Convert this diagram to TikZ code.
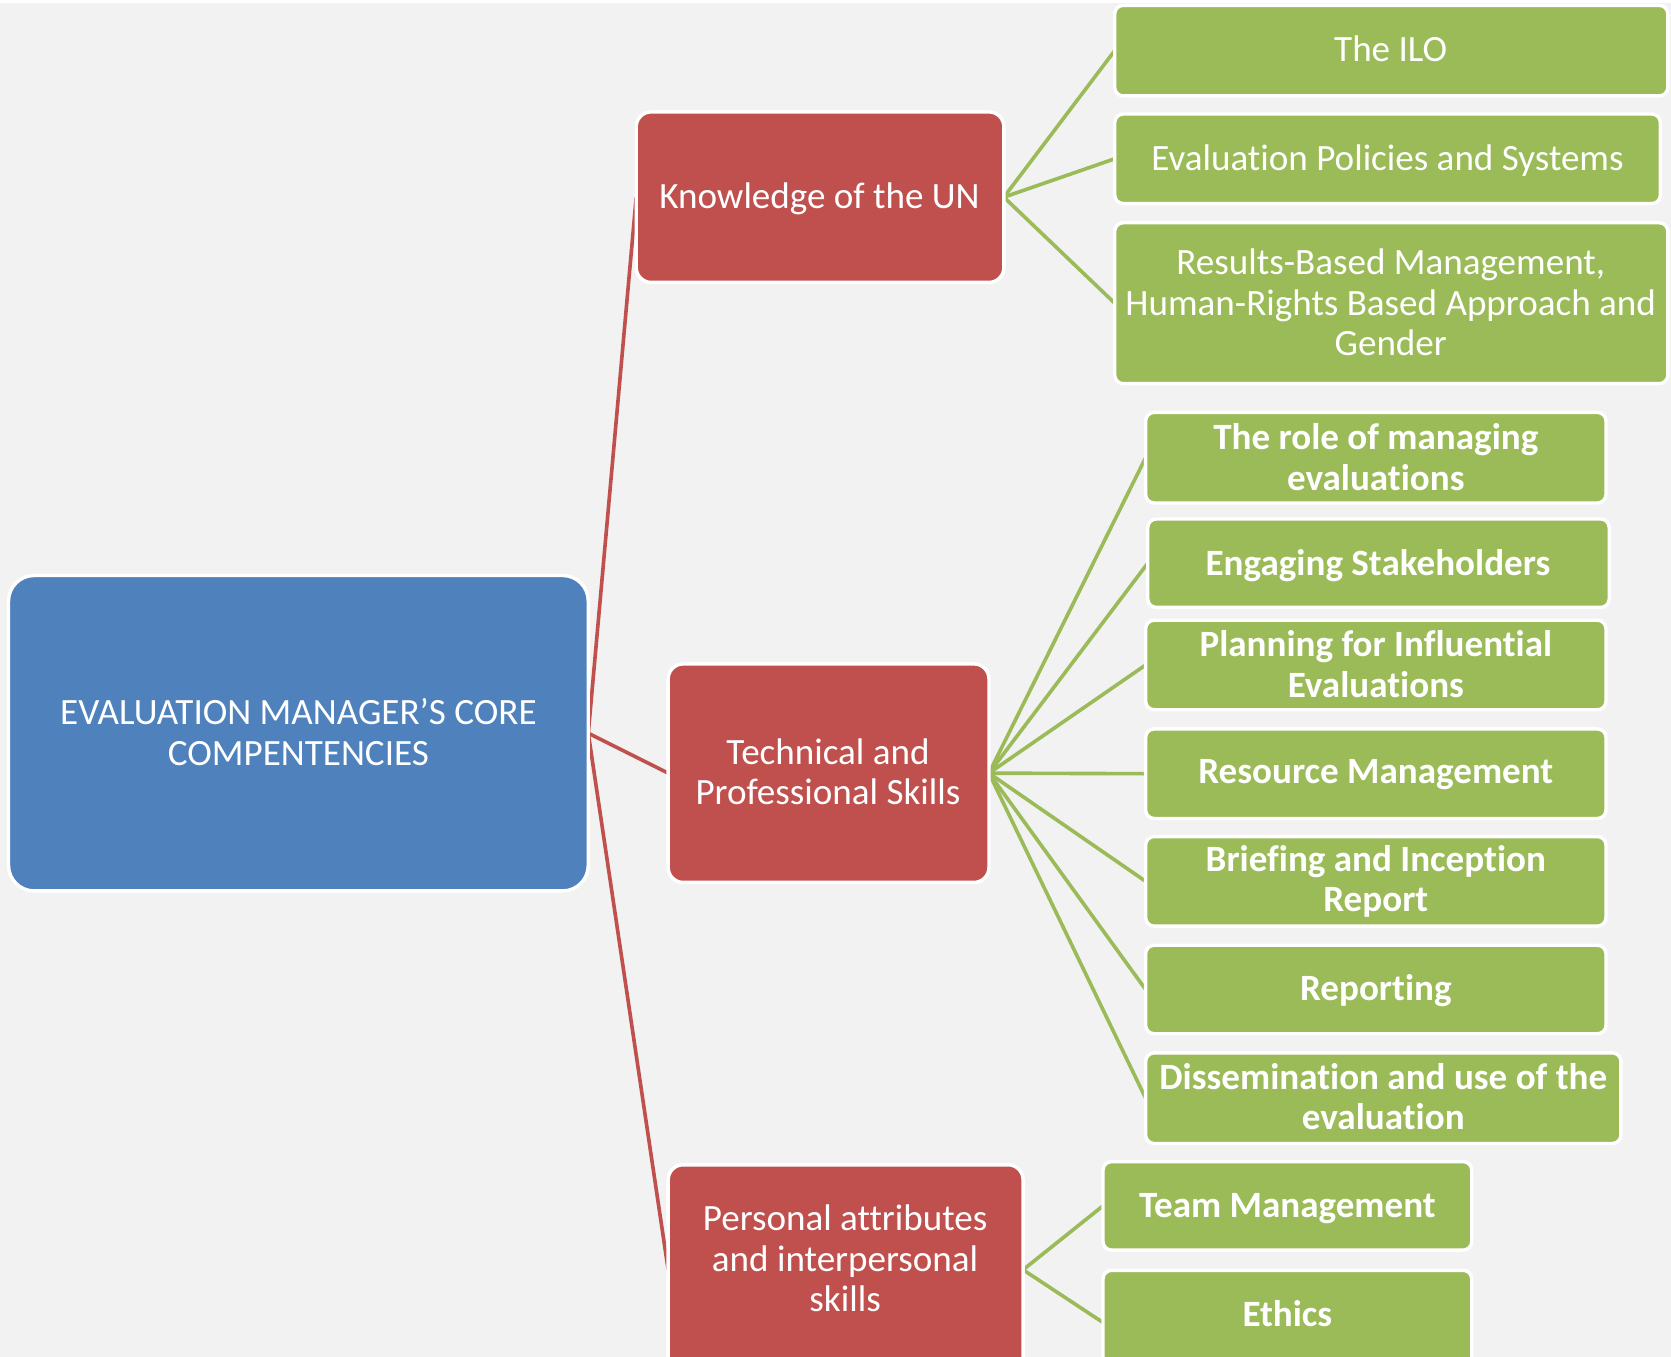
\documentclass[tikz,border=0pt]{standalone}
\usepackage{fontspec}
\setmainfont{Carlito}[Ligatures=NoCommon]
\usetikzlibrary{fit,backgrounds}
\definecolor{bgc}{HTML}{F2F2F2}
\definecolor{rootc}{HTML}{4F81BD}
\definecolor{redc}{HTML}{C0504D}
\definecolor{greenc}{HTML}{9BBB59}
\tikzset{
  box/.style={inner sep=0pt, outer sep=0pt, draw=white, line width=1.6pt},
  rootbox/.style={box, fill=rootc, rounded corners=12pt},
  redbox/.style={box, fill=redc, rounded corners=7pt},
  greenbox/.style={box, fill=greenc, rounded corners=4pt},
  txt/.style={text=white, align=center, inner sep=0pt, font=\fontsize{17.4}{19}\selectfont},
  boldtxt/.style={txt, font=\fontsize{17.4}{19}\selectfont\bfseries},
  redline/.style={draw=redc, line width=1.7pt},
  greenline/.style={draw=greenc, line width=1.7pt},
}
\begin{document}
\begin{tikzpicture}[x=0.5pt,y=-0.5pt]
\useasboundingbox (0,0) rectangle (1568,1273);
\clip (0,0) rectangle (1568,1273);
% boxes
\node[rootbox, fit={(8,540) (552,836)}] (root) {};
\node[redbox, fit={(597,105) (942,265)}] (know) {};
\node[redbox, fit={(627,623) (928,828)}] (tech) {};
\node[redbox, fit={(627,1093) (960,1290)}] (pers) {};
\node[greenbox, fit={(1046,5) (1565,90)}] (ilo) {};
\node[greenbox, fit={(1046,107) (1558,191)}] (eps) {};
\node[greenbox, fit={(1046,209) (1565,360)}] (rbm) {};
\node[greenbox, fit={(1075,387) (1507,472)}] (role) {};
\node[greenbox, fit={(1077,487) (1510,570)}] (eng) {};
\node[greenbox, fit={(1075,582) (1507,666)}] (plan) {};
\node[greenbox, fit={(1075,684) (1507,768)}] (res) {};
\node[greenbox, fit={(1075,785) (1507,869)}] (brief) {};
\node[greenbox, fit={(1075,887) (1507,970)}] (rep) {};
\node[greenbox, fit={(1075,988) (1521,1073)}] (diss) {};
\node[greenbox, fit={(1035,1090) (1381,1173)}] (team) {};
\node[greenbox, fit={(1035,1192) (1381,1290)}] (eth) {};
% texts
\node[txt] (troot) at (280,687) {EVALUATION MANAGER’S CORE\\COMPENTENCIES};
\node[txt] (tknow) at (769,187) {Knowledge of the UN};
\node[txt] (ttech) at (777,724) {Technical and\\Professional Skills};
\node[txt] (tpers) at (793,1181) {Personal attributes\\and interpersonal\\skills};
\node[txt] (tilo) at (1305,46) {The ILO};
\node[txt] (teps) at (1302,151) {Evaluation Policies and Systems};
\node[txt] (trbm) at (1305,284) {Results-Based Management,\\Human-Rights Based Approach and\\Gender};
\node[boldtxt] (trole) at (1291,429) {The role of managing\\evaluations};
\node[boldtxt] (teng) at (1293,531) {Engaging Stakeholders};
\node[boldtxt] (tplan) at (1291,623) {Planning for Influential\\Evaluations};
\node[boldtxt] (tres) at (1291,727) {Resource Management};
\node[boldtxt] (tbrief) at (1291,827) {Briefing and Inception\\Report};
\node[boldtxt] (trep) at (1291,930) {Reporting};
\node[boldtxt] (tdiss) at (1298,1029) {Dissemination and use of the\\evaluation};
\node[boldtxt] (tteam) at (1208,1134) {Team Management};
\node[boldtxt] (teth) at (1208,1233) {Ethics};
\begin{scope}[on background layer]
\fill[white] (0,0) rectangle (1568,1273);
\fill[bgc] (0,3) rectangle (1568,1273);
\draw[redline] (root.east) -- (know.west);
\draw[redline] (root.east) -- (tech.west);
\draw[redline] (root.east) -- (pers.west);
\foreach \c in {ilo,eps,rbm} \draw[greenline] (know.east) -- (\c.west);
\foreach \c in {role,eng,plan,res,brief,rep,diss} \draw[greenline] (tech.east) -- (\c.west);
\foreach \c in {team,eth} \draw[greenline] (pers.east) -- (\c.west);
\end{scope}
\end{tikzpicture}
\end{document}
